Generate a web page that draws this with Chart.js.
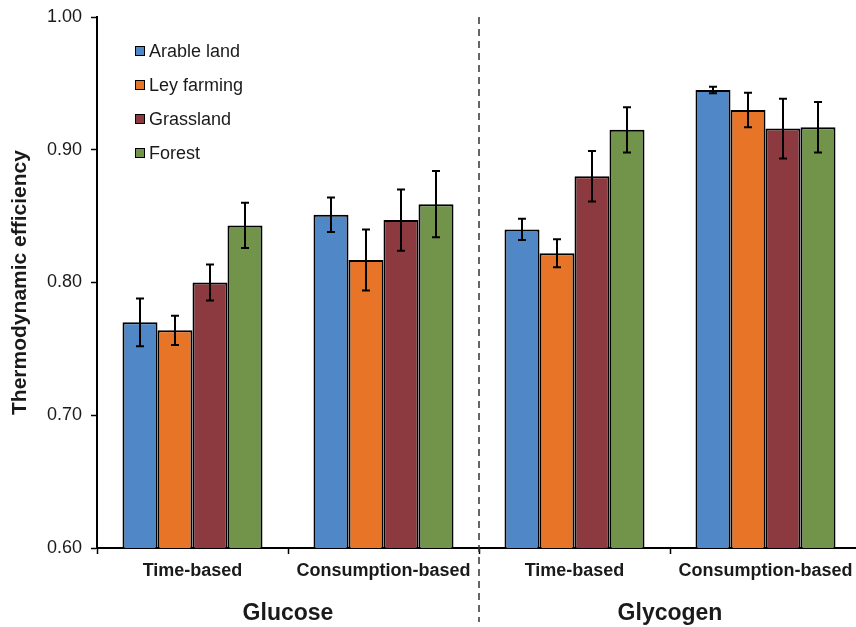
<!DOCTYPE html>
<html>
<head>
<meta charset="utf-8">
<script src="https://cdn.jsdelivr.net/npm/chart.js@4.4.1/dist/chart.umd.min.js"></script>
<style>
    html, body { margin: 0; padding: 0; background: #fff; overflow: hidden; }
    #wrap { width: 861px; height: 627px; }
</style>
</head>
<body>
<div id="wrap"><canvas id="chart" width="861" height="627"></canvas></div>
<script>
    // Categories and groups
    const categories = ['Time-based', 'Consumption-based', 'Time-based', 'Consumption-based'];
    const groups = ['Glucose', 'Glycogen'];
    const seriesNames = ['Arable land', 'Ley farming', 'Grassland', 'Forest'];
    const seriesColors = ['#4F87C7', '#E87427', '#8C3A3F', '#71934A'];

    // Values (mean, error)
    const arableLand = [0.770, 0.851, 0.840, 0.945];
    const arableErr = [0.018, 0.013, 0.008, 0.0025];
    const leyFarming = [0.764, 0.817, 0.822, 0.930];
    const leyErr = [0.011, 0.023, 0.0105, 0.013];
    const grassland = [0.800, 0.847, 0.880, 0.916];
    const grassErr = [0.0135, 0.023, 0.019, 0.0225];
    const forest = [0.843, 0.859, 0.915, 0.917];
    const forestErr = [0.017, 0.025, 0.017, 0.019];

    const yTicks = [0.60, 0.70, 0.80, 0.90, 1.00];

    const values = [arableLand, leyFarming, grassland, forest];
    const errors = [arableErr, leyErr, grassErr, forestErr];

    const textColor = '#1a1a1a';
    const fontFamily = 'Arial, "Liberation Sans", sans-serif';

    // Error bars
    const errorBars = {
        id: 'errorBars',
        afterDatasetsDraw(chart) {
            const ctx = chart.ctx;
            const y = chart.scales.y;
            ctx.save();
            ctx.strokeStyle = '#000';
            ctx.lineWidth = 2;
            chart.data.datasets.forEach((ds, di) => {
                const meta = chart.getDatasetMeta(di);
                meta.data.forEach((bar, i) => {
                    const v = ds.data[i], e = errors[di][i];
                    const top = y.getPixelForValue(v + e);
                    const bot = y.getPixelForValue(v - e);
                    ctx.beginPath();
                    ctx.moveTo(bar.x, top); ctx.lineTo(bar.x, bot);
                    ctx.moveTo(bar.x - 4, top); ctx.lineTo(bar.x + 4, top);
                    ctx.moveTo(bar.x - 4, bot); ctx.lineTo(bar.x + 4, bot);
                    ctx.stroke();
                });
            });
            ctx.restore();
        }
    };

    // Legend, divider and group labels
    const decorations = {
        id: 'decorations',
        afterDraw(chart) {
            const ctx = chart.ctx;
            const x = chart.scales.x;
            const area = chart.chartArea;
            ctx.save();

            // dashed divider between glucose and glycogen
            const mid = (x.getPixelForValue(1) + x.getPixelForValue(2)) / 2;
            ctx.strokeStyle = '#333';
            ctx.lineWidth = 1.5;
            ctx.setLineDash([7, 5]);
            ctx.beginPath();
            ctx.moveTo(mid, area.top);
            ctx.lineTo(mid, 622);
            ctx.stroke();
            ctx.setLineDash([]);

            // group labels
            ctx.fillStyle = textColor;
            ctx.font = 'bold 23px ' + fontFamily;
            ctx.textAlign = 'center';
            ctx.textBaseline = 'middle';
            groups.forEach((g, i) => {
                const cx = (x.getPixelForValue(i * 2) + x.getPixelForValue(i * 2 + 1)) / 2;
                ctx.fillText(g, cx, 614);
            });

            // legend
            ctx.font = '18px ' + fontFamily;
            ctx.textAlign = 'left';
            seriesNames.forEach((name, i) => {
                const cy = 51 + i * 34;
                ctx.fillStyle = seriesColors[i];
                ctx.fillRect(135, cy - 5, 10, 10);
                ctx.strokeStyle = '#000';
                ctx.lineWidth = 1;
                ctx.strokeRect(135.5, cy - 4.5, 9, 9);
                ctx.fillStyle = textColor;
                ctx.fillText(name, 149, cy + 1);
            });
            ctx.restore();
        }
    };

    new Chart(document.getElementById('chart'), {
        type: 'bar',
        data: {
            labels: categories,
            datasets: seriesNames.map((name, i) => ({
                label: name,
                data: values[i],
                backgroundColor: seriesColors[i],
                borderColor: '#000',
                borderWidth: 2,
                categoryPercentage: 0.733,
                barPercentage: 1.0
            }))
        },
        options: {
            responsive: false,
            animation: false,
            layout: { padding: { top: 17, left: 0, right: 0, bottom: 0 } },
            plugins: {
                legend: { display: false },
                tooltip: { enabled: false }
            },
            scales: {
                x: {
                    offset: true,
                    grid: {
                        offset: true,
                        drawOnChartArea: false,
                        drawTicks: true,
                        tickLength: 6,
                        tickWidth: 1.5,
                        color: '#000'
                    },
                    border: { color: '#000', width: 2 },
                    ticks: {
                        color: textColor,
                        font: { family: fontFamily, size: 18, weight: 'bold' },
                        padding: 6,
                        maxRotation: 0
                    },
                    afterFit(scale) {
                        scale.height = 79;
                        scale.paddingLeft = 0;
                        scale.paddingRight = 0;
                    }
                },
                y: {
                    min: 0.6,
                    max: 1.0,
                    afterBuildTicks(scale) { scale.ticks = yTicks.map(v => ({ value: v })); },
                    grid: {
                        drawOnChartArea: false,
                        drawTicks: true,
                        tickLength: 6,
                        tickWidth: 1.5,
                        color: '#000'
                    },
                    border: { color: '#000', width: 2 },
                    ticks: {
                        color: textColor,
                        font: { family: fontFamily, size: 18 },
                        padding: 9,
                        callback: v => Number(v).toFixed(2)
                    },
                    title: {
                        display: true,
                        text: 'Thermodynamic efficiency',
                        color: textColor,
                        font: { family: fontFamily, size: 21, weight: 'bold' },
                        padding: { top: 8, bottom: 0 }
                    },
                    afterFit(scale) {
                        scale.width = 97;
                        scale.paddingTop = 0;
                        scale.paddingBottom = 0;
                    }
                }
            }
        },
        plugins: [errorBars, decorations]
    });
</script>
</body>
</html>
